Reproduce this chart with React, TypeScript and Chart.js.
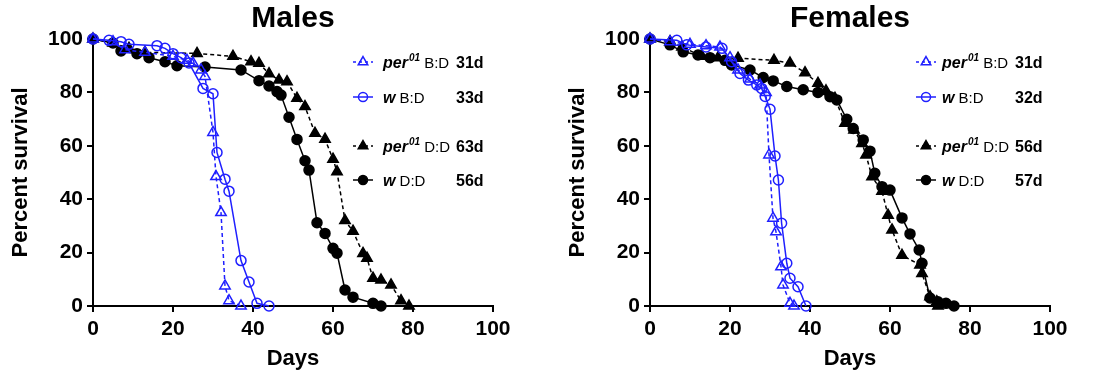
import React, { useEffect, useRef } from "react";
import { Chart, registerables } from "chart.js";

Chart.register(...registerables);

const BLUE = "#1f1fff";
const BLACK = "#000000";
const FONT = '"Liberation Sans", Arial, Helvetica, sans-serif';

const xTickValues = [0, 20, 40, 60, 80, 100];
const yTickValues = [0, 20, 40, 60, 80, 100];

// ---------- Males ----------
const malePerBDDays = [0, 5, 8, 13, 20, 23.5, 25, 27, 28, 30, 30.75, 32, 33, 34, 37];
const malePerBDSurv = [100, 99, 96, 95, 93.5, 92, 91, 88.4, 86, 65, 48.5, 35, 7.5, 2, 0];

const maleWBDDays = [0, 4, 7, 9, 16, 18, 20, 22, 24, 27.5, 30, 31, 33, 34, 37, 39, 41, 44];
const maleWBDSurv = [100, 99.5, 99, 98, 97.5, 96.5, 94.5, 93, 91, 81.5, 79.5, 57.5, 47.5, 43, 17, 9, 1, 0];

const malePerDDDays = [0, 5, 9, 13, 26, 35, 39.5, 41.5, 44, 46.5, 48.5, 51, 53, 55.5, 58, 60, 61, 63, 65, 67.5, 68.5, 70, 72, 74.5, 77, 79];
const malePerDDSurv = [100, 98.5, 96.5, 95, 94.6, 93.5, 91.5, 90.9, 87, 84.6, 84, 77.8, 74.7, 64.7, 62.5, 55, 50.3, 32, 28, 19.7, 17.9, 10.4, 9.7, 7.9, 2, 0];

const maleWDDDays = [0, 5, 7, 11, 14, 18, 21, 28, 37, 41.5, 44, 46, 47, 49, 51, 53, 54, 56, 58, 60, 61, 63, 65, 70, 72];
const maleWDDSurv = [100, 98.5, 95.5, 94.5, 93, 91.5, 90, 89.5, 88.4, 84.4, 82.4, 80.3, 79, 70.7, 62.4, 54.4, 50.9, 31.2, 27.2, 21.6, 19.8, 6, 3.3, 1, 0];

const maleMedians = ["31d", "33d", "63d", "56d"];

// ---------- Females ----------
const femalePerBDDays = [0, 5, 10, 14, 17.5, 20, 22, 25, 27.5, 29, 29.75, 30.75, 31.5, 32.75, 33.25, 35, 36];
const femalePerBDSurv = [100, 99, 98, 97.5, 97, 93, 88.4, 85, 82.8, 80, 56.6, 32.9, 27.8, 14.7, 7.9, 1, 0];

const femaleWBDDays = [0, 6.7, 9.2, 14, 18, 20.4, 22.5, 24.6, 26.7, 27.9, 28.8, 30, 31.25, 32.1, 32.9, 34.2, 35, 37, 39];
const femaleWBDSurv = [100, 99.5, 97.8, 97, 96.5, 91.5, 87.1, 84.6, 82.8, 81.5, 78.5, 73.7, 56.2, 47.2, 31, 16, 10.4, 7.2, 0];

const femalePerDDDays = [0, 5, 8, 13, 17, 22, 31, 35, 38.75, 42, 44, 46.25, 48.75, 51, 53, 54, 55.5, 58, 59.5, 60.5, 63, 67.5, 68, 70, 71.7, 72];
const femalePerDDSurv = [100, 99, 97, 93.5, 93, 92.8, 92, 91, 87.4, 83.4, 80.6, 77.8, 68.4, 65.9, 60.9, 56.6, 48.4, 43, 34, 28.5, 19, 15.4, 12.2, 3.5, 1.6, 0];

const femaleWDDDays = [0, 5, 8.3, 12, 15, 18.75, 20.4, 25, 28.3, 30.8, 34.2, 38.3, 42, 45, 46.7, 49.2, 50.8, 53.3, 55, 56.2, 58, 60, 63, 65, 67.3, 68, 70, 72, 74, 76];
const femaleWDDSurv = [100, 97.8, 95.2, 94, 93, 92, 90.3, 88.4, 85.6, 84.3, 82.2, 81, 80, 78.4, 77.2, 69.9, 66.5, 62.2, 58, 49.7, 44.7, 43.4, 33, 27, 21, 16, 3, 1.6, 1, 0];

const femaleMedians = ["31d", "32d", "56d", "57d"];

// legend rows: genotype, condition
const legendGenotypes = ["per", "w", "per", "w"];
const legendConditions = ["B:D", "B:D", "D:D", "D:D"];

type Kind = { color: string; dashed: boolean; style: "triangle" | "circle"; filled: boolean };
const kinds: Kind[] = [
  { color: BLUE, dashed: true, style: "triangle", filled: false },
  { color: BLUE, dashed: false, style: "circle", filled: false },
  { color: BLACK, dashed: true, style: "triangle", filled: true },
  { color: BLACK, dashed: false, style: "circle", filled: true },
];

const rowYs = [62, 97, 146, 180];

function toPoints(days: number[], surv: number[]) {
  return days.map((d, i) => ({ x: d, y: surv[i] }));
}

function makeDataset(label: string, days: number[], surv: number[], k: Kind) {
  return {
    label,
    data: toPoints(days, surv),
    borderColor: k.color,
    backgroundColor: k.filled ? k.color : "rgba(0,0,0,0)",
    borderWidth: 1.5,
    borderDash: k.dashed ? [4, 3] : [],
    pointStyle: k.style,
    pointRadius: k.style === "triangle" ? 6 : 5,
    pointBorderWidth: 1.5,
    pointBackgroundColor: k.filled ? k.color : "rgba(0,0,0,0)",
    pointBorderColor: k.color,
    tension: 0,
    clip: false as const,
    showLine: true,
  };
}

function drawMarker(ctx: CanvasRenderingContext2D, k: Kind, x: number, y: number) {
  ctx.save();
  ctx.setLineDash([]);
  ctx.lineWidth = 1.5;
  ctx.strokeStyle = k.color;
  ctx.fillStyle = k.color;
  ctx.beginPath();
  if (k.style === "circle") {
    ctx.arc(x, y, 4.5, 0, Math.PI * 2);
  } else {
    const r = 5.5;
    for (let i = 0; i < 3; i++) {
      const a = (i * 2 * Math.PI) / 3;
      const px = x + Math.sin(a) * r;
      const py = y - Math.cos(a) * r;
      if (i === 0) ctx.moveTo(px, py);
      else ctx.lineTo(px, py);
    }
    ctx.closePath();
  }
  if (k.filled) ctx.fill();
  ctx.stroke();
  ctx.restore();
}

function overlayPlugin(title: string, medians: string[], markerOff: number, textOff: number, medianOff: number) {
  return {
    id: "overlay",
    afterDraw(chart: any) {
      const ctx: CanvasRenderingContext2D = chart.ctx;
      const a = chart.chartArea;
      ctx.save();
      ctx.fillStyle = "#000";
      ctx.font = `bold 30px ${FONT}`;
      ctx.textAlign = "center";
      ctx.textBaseline = "middle";
      ctx.fillText(title, (a.left + a.right) / 2, 19);

      for (let i = 0; i < 4; i++) {
        const k = kinds[i];
        const y = rowYs[i];
        const mx = a.left + markerOff;
        ctx.strokeStyle = k.color;
        ctx.lineWidth = 1.5;
        ctx.setLineDash(k.dashed ? [3, 3] : []);
        ctx.beginPath();
        ctx.moveTo(mx - 10, y);
        ctx.lineTo(mx + 10, y);
        ctx.stroke();
        ctx.setLineDash([]);
        drawMarker(ctx, k, mx, y);

        ctx.fillStyle = "#000";
        ctx.textAlign = "left";
        ctx.textBaseline = "alphabetic";
        const base = y + 6;
        let x = a.left + textOff;
        ctx.font = `italic bold 16px ${FONT}`;
        ctx.fillText(legendGenotypes[i], x, base);
        x += ctx.measureText(legendGenotypes[i]).width;
        if (legendGenotypes[i] === "per") {
          ctx.font = `italic bold 10px ${FONT}`;
          ctx.fillText("01", x + 1, base - 7);
          x += ctx.measureText("01").width + 1;
        }
        ctx.font = `15px ${FONT}`;
        ctx.fillText(" " + legendConditions[i], x, base);

        ctx.font = `bold 16px ${FONT}`;
        ctx.fillText(medians[i], a.left + medianOff, base);
      }
      ctx.restore();
    },
  };
}

function buildConfig(
  title: string,
  sets: { d: number[]; s: number[] }[],
  medians: string[],
  rightPad: number,
  markerOff: number,
  textOff: number,
  medianOff: number
) {
  const labels = ["per01 B:D", "w B:D", "per01 D:D", "w D:D"];
  const datasets = sets.map((st, i) => makeDataset(labels[i], st.d, st.s, kinds[i]));
  const tickFont = { family: FONT, size: 21, weight: "bold" as const };
  return {
    type: "scatter" as const,
    data: { datasets },
    plugins: [overlayPlugin(title, medians, markerOff, textOff, medianOff)],
    options: {
      animation: false as const,
      responsive: false,
      devicePixelRatio: 1,
      layout: { padding: { top: 39, right: rightPad, left: 0, bottom: 0 } },
      plugins: { legend: { display: false }, tooltip: { enabled: false }, title: { display: false } },
      scales: {
        x: {
          type: "linear" as const,
          min: 0,
          max: 100,
          afterFit: (s: any) => {
            s.height = 75;
          },
          afterBuildTicks: (s: any) => {
            s.ticks = xTickValues.map((v) => ({ value: v }));
          },
          ticks: { font: tickFont, color: "#000", padding: 5, maxRotation: 0, autoSkip: false },
          grid: { display: true, drawOnChartArea: false, drawTicks: true, tickLength: 6, color: "#000", lineWidth: 2 },
          border: { display: true, color: "#000", width: 2 },
          title: {
            display: true,
            text: "Days",
            color: "#000",
            font: { family: FONT, size: 22, weight: "bold" as const },
            padding: { top: 0, bottom: 9 },
          },
        },
        y: {
          type: "linear" as const,
          min: 0,
          max: 100,
          afterFit: (s: any) => {
            s.width = 93;
          },
          afterBuildTicks: (s: any) => {
            s.ticks = yTickValues.map((v) => ({ value: v }));
          },
          ticks: { font: tickFont, color: "#000", padding: 4, autoSkip: false },
          grid: { display: true, drawOnChartArea: false, drawTicks: true, tickLength: 6, color: "#000", lineWidth: 2 },
          border: { display: true, color: "#000", width: 2 },
          title: {
            display: true,
            text: "Percent survival",
            color: "#000",
            font: { family: FONT, size: 22, weight: "bold" as const },
            padding: { top: 8, bottom: 0 },
          },
        },
      },
    },
  };
}

function Panel(props: { config: any; left: number; width: number }) {
  const ref = useRef<HTMLCanvasElement | null>(null);
  useEffect(() => {
    if (!ref.current) return;
    const chart = new Chart(ref.current, props.config);
    return () => chart.destroy();
  }, []);
  return (
    <canvas
      ref={ref}
      width={props.width}
      height={381}
      style={{ position: "absolute", left: props.left, top: 0, width: props.width, height: 381 }}
    />
  );
}

export default function App() {
  const maleConfig = buildConfig(
    "Males",
    [
      { d: malePerBDDays, s: malePerBDSurv },
      { d: maleWBDDays, s: maleWBDSurv },
      { d: malePerDDDays, s: malePerDDSurv },
      { d: maleWDDDays, s: maleWDDSurv },
    ],
    maleMedians,
    64,
    270,
    290,
    363
  );
  const femaleConfig = buildConfig(
    "Females",
    [
      { d: femalePerBDDays, s: femalePerBDSurv },
      { d: femaleWBDDays, s: femaleWBDSurv },
      { d: femalePerDDDays, s: femalePerDDSurv },
      { d: femaleWDDDays, s: femaleWDDSurv },
    ],
    femaleMedians,
    57,
    276,
    292,
    365
  );
  return (
    <div style={{ position: "absolute", left: 0, top: 0, width: 1107, height: 381, background: "#fff" }}>
      <Panel config={maleConfig} left={0} width={557} />
      <Panel config={femaleConfig} left={557} width={550} />
    </div>
  );
}
